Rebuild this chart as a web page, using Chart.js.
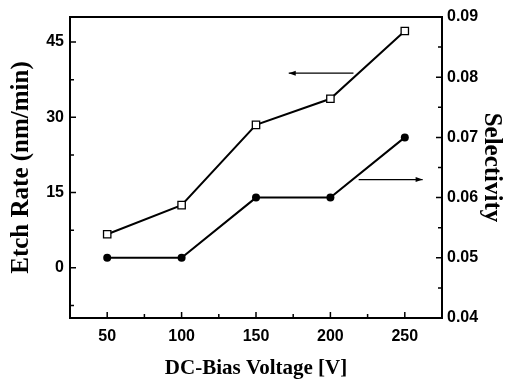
<!DOCTYPE html>
<html>
<head>
<meta charset="utf-8">
<script src="https://cdn.jsdelivr.net/npm/chart.js@4"></script>
<style>
html,body{margin:0;padding:0;background:#fff;}
#wrap{width:507px;height:383px;position:relative;}
</style>
</head>
<body>
<div id="wrap"><canvas id="c" width="507" height="383"></canvas></div>
<script>
// ---- data ----
const voltages = [50, 100, 150, 200, 250];
const etchRate = [6.7, 12.5, 28.5, 33.7, 47.2];
const selectivity = [0.050, 0.050, 0.060, 0.060, 0.070];
const xTicks = [50, 100, 150, 200, 250];
const xMinorTicks = [75, 125, 175, 225];
const leftTicks = [0, 15, 30, 45];
const leftMinorTicks = [-7.5, 7.5, 22.5, 37.5];
const rightTicks = [0.04, 0.05, 0.06, 0.07, 0.08, 0.09];
const rightMinorTicks = [0.045, 0.055, 0.065, 0.075, 0.085];
// arrows: [x start, x end] at given y (data units)
const etchArrowX = [215.5, 172];
const etchArrowY = 38.8;
const selArrowX = [219, 262];
const selArrowY = 0.0630;

const pairs = (xs, ys) => xs.map((x, i) => ({x: x, y: ys[i]}));

const framePlugin = {
  id: 'frame',
  afterDatasetsDraw(chart) {
    const {ctx, chartArea: a, scales} = chart;
    ctx.save();
    ctx.strokeStyle = '#000';
    ctx.lineWidth = 2;
    ctx.strokeRect(a.left, a.top, a.right - a.left, a.bottom - a.top);
    ctx.lineWidth = 1.5;
    ctx.beginPath();
    const major = 6, minor = 4;
    xTicks.forEach(v => { const p = scales.x.getPixelForValue(v); ctx.moveTo(p, a.bottom); ctx.lineTo(p, a.bottom - major); });
    xMinorTicks.forEach(v => { const p = scales.x.getPixelForValue(v); ctx.moveTo(p, a.bottom); ctx.lineTo(p, a.bottom - minor); });
    leftTicks.forEach(v => { const p = scales.y.getPixelForValue(v); ctx.moveTo(a.left, p); ctx.lineTo(a.left + major, p); });
    leftMinorTicks.forEach(v => { const p = scales.y.getPixelForValue(v); ctx.moveTo(a.left, p); ctx.lineTo(a.left + minor, p); });
    rightTicks.forEach(v => { const p = scales.y1.getPixelForValue(v); ctx.moveTo(a.right, p); ctx.lineTo(a.right - major, p); });
    rightMinorTicks.forEach(v => { const p = scales.y1.getPixelForValue(v); ctx.moveTo(a.right, p); ctx.lineTo(a.right - minor, p); });
    ctx.stroke();

    function arrow(x0, x1, y) {
      ctx.beginPath();
      ctx.lineWidth = 1.2;
      ctx.moveTo(x0, y); ctx.lineTo(x1, y);
      ctx.stroke();
      const d = Math.sign(x1 - x0);
      ctx.beginPath();
      ctx.moveTo(x1, y);
      ctx.lineTo(x1 - d * 7, y - 2.5);
      ctx.lineTo(x1 - d * 7, y + 2.5);
      ctx.closePath();
      ctx.fillStyle = '#000';
      ctx.fill();
    }
    const ey = scales.y.getPixelForValue(etchArrowY);
    arrow(scales.x.getPixelForValue(etchArrowX[0]), scales.x.getPixelForValue(etchArrowX[1]), ey);
    const sy = scales.y1.getPixelForValue(selArrowY);
    arrow(scales.x.getPixelForValue(selArrowX[0]), scales.x.getPixelForValue(selArrowX[1]), sy);
    ctx.restore();
  }
};

const tickFont = {family: '"Liberation Sans", Arial, sans-serif', size: 16, weight: 'bold'};
const serif = '"Liberation Serif", "Times New Roman", serif';

new Chart(document.getElementById('c'), {
  type: 'scatter',
  data: {
    datasets: [
      {
        label: 'Etch Rate',
        data: pairs(voltages, etchRate),
        yAxisID: 'y',
        showLine: true,
        borderColor: '#000',
        borderWidth: 2,
        pointStyle: 'rect',
        pointRadius: 5.2,
        pointBackgroundColor: '#fff',
        pointBorderColor: '#000',
        pointBorderWidth: 1.3
      },
      {
        label: 'Selectivity',
        data: pairs(voltages, selectivity),
        yAxisID: 'y1',
        showLine: true,
        borderColor: '#000',
        borderWidth: 2,
        pointStyle: 'circle',
        pointRadius: 4,
        pointBackgroundColor: '#000',
        pointBorderColor: '#000',
        pointBorderWidth: 0
      }
    ]
  },
  options: {
    responsive: false,
    animation: false,
    layout: {padding: {top: 17, left: 0, right: 0, bottom: 0}},
    plugins: {legend: {display: false}, tooltip: {enabled: false}},
    scales: {
      x: {
        type: 'linear',
        min: 25, max: 275,
        grid: {display: false, drawTicks: false, tickLength: 0},
        border: {display: false},
        afterBuildTicks: s => { s.ticks = xTicks.map(v => ({value: v})); },
        afterFit: s => { s.height = 65; },
        ticks: {color: '#000', font: tickFont, padding: 9, maxRotation: 0},
        title: {display: true, text: 'DC-Bias Voltage [V]', color: '#000',
                font: {family: serif, size: 21, weight: 'bold', lineHeight: 1}, padding: {top: 0, bottom: 3.5}}
      },
      y: {
        position: 'left',
        min: -10, max: 50,
        grid: {display: false, drawTicks: false, tickLength: 0},
        border: {display: false},
        afterBuildTicks: s => { s.ticks = leftTicks.map(v => ({value: v})); },
        afterFit: s => { s.width = 70; },
        ticks: {color: '#000', font: tickFont, padding: 6},
        title: {display: true, text: 'Etch Rate (nm/min)', color: '#000',
                font: {family: serif, size: 25, weight: 'bold', lineHeight: 1}, padding: {top: 9.5, bottom: 0}}
      },
      y1: {
        position: 'right',
        min: 0.04, max: 0.09,
        grid: {display: false, drawTicks: false, tickLength: 0},
        border: {display: false},
        afterBuildTicks: s => { s.ticks = rightTicks.map(v => ({value: v})); },
        afterFit: s => { s.width = 65; },
        ticks: {color: '#000', font: tickFont, padding: 5, callback: v => v.toFixed(2)},
        title: {display: true, text: 'Selectivity', color: '#000',
                font: {family: serif, size: 25, weight: 'bold', lineHeight: 1}, padding: {top: 3.5, bottom: 0}}
      }
    }
  },
  plugins: [framePlugin]
});
</script>
</body>
</html>
